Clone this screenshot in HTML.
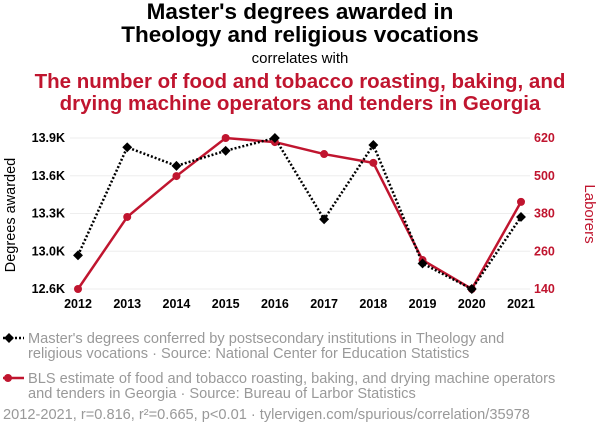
<!DOCTYPE html>
<html><head><meta charset="utf-8"><style>
body{margin:0;width:600px;height:436px;background:#fff;font-family:"Liberation Sans",sans-serif;overflow:hidden}
</style></head><body>
<svg width="600" height="436" xmlns="http://www.w3.org/2000/svg" font-family="Liberation Sans, sans-serif">
<text x="300" y="19" text-anchor="middle" font-size="22.5" font-weight="bold" fill="#000">Master's degrees awarded in</text>
<text x="300" y="42" text-anchor="middle" font-size="22.5" font-weight="bold" fill="#000">Theology and religious vocations</text>
<text x="300" y="63" text-anchor="middle" font-size="15" fill="#000">correlates with</text>
<text x="300" y="88" text-anchor="middle" font-size="20.5" font-weight="bold" fill="#c0152f">The number of food and tobacco roasting, baking, and</text>
<text x="300" y="110" text-anchor="middle" font-size="20.5" font-weight="bold" fill="#c0152f">drying machine operators and tenders in Georgia</text>
<g id="grid"></g>
<g id="axes"></g>
<text transform="translate(15,215) rotate(-90)" text-anchor="middle" font-size="14.5" fill="#000">Degrees awarded</text>
<text transform="translate(585,214) rotate(90)" text-anchor="middle" font-size="15" fill="#c0152f">Laborers</text>
<g id="marks"></g>
<g>
<line x1="3" y1="338" x2="24" y2="338" stroke="#000" stroke-width="2.5" stroke-dasharray="2,2"/>
<rect x="5.5" y="334.5" width="7" height="7" transform="rotate(45 9 338)" fill="#000"/>
<text x="28" y="343" font-size="14.6" fill="#999">Master's degrees conferred by postsecondary institutions in Theology and</text>
<text x="28" y="358" font-size="14.6" fill="#999">religious vocations · Source: National Center for Education Statistics</text>
<line x1="3" y1="378" x2="24" y2="378" stroke="#c0152f" stroke-width="2.5"/>
<circle cx="8" cy="378" r="4" fill="#c0152f"/>
<text x="28" y="383" font-size="14.6" fill="#999">BLS estimate of food and tobacco roasting, baking, and drying machine operators</text>
<text x="28" y="398" font-size="14.6" fill="#999">and tenders in Georgia · Source: Bureau of Larbor Statistics</text>
<text x="3" y="419" font-size="14.6" fill="#999">2012-2021, r=0.816, r²=0.665, p&lt;0.01 · tylervigen.com/spurious/correlation/35978</text>
</g>
</svg>
<script>
const years=[2012,2013,2014,2015,2016,2017,2018,2019,2020,2021];
const degrees=[12890,13820,13660,13790,13900,13200,13840,12820,12600,13220];
const laborers=[140,369,499,620,607,569,541,232,140,417];
const leftTicks=[12600,12925,13250,13575,13900];
const leftLabels=["12.6K","13.0K","13.3K","13.6K","13.9K"];
const rightTicks=[140,260,380,500,620];
const NS="http://www.w3.org/2000/svg";
const x=i=>78+i*(521-78)/(years.length-1);
const yL=v=>289-(v-12600)/1300*151;
const yR=v=>289-(v-140)/480*151;
function mk(t,a,p){const e=document.createElementNS(NS,t);for(const k in a)e.setAttribute(k,a[k]);document.getElementById(p).appendChild(e);return e;}
leftTicks.forEach((v,i)=>{
 const g=mk('line',{x1:70,x2:530,y1:yL(v),y2:yL(v),stroke:'#eee'},'grid');
 
 
 const t=mk('text',{x:65,y:yL(v)+4,'text-anchor':'end','font-size':12.5,'font-weight':'bold',fill:'#000'},'axes');t.textContent=leftLabels[i];
 
 
});
rightTicks.forEach(v=>{
 const t=mk('text',{x:534,y:yR(v)+4,'font-size':12.5,'font-weight':'bold',fill:'#c0152f'},'axes');t.textContent=v;
 
 
});
years.forEach((yr,i)=>{
 const t=mk('text',{x:x(i),y:308,'text-anchor':'middle','font-size':12.5,'font-weight':'bold',fill:'#000'},'axes');t.textContent=yr;
 
 
});
const rl=mk('polyline',{points:laborers.map((v,i)=>x(i)+','+yR(v)).join(' '),fill:'none',stroke:'#c0152f','stroke-width':2.5},'marks');


const bl=mk('polyline',{points:degrees.map((v,i)=>x(i)+','+yL(v)).join(' '),fill:'none',stroke:'#000','stroke-width':2.5,'stroke-dasharray':'2,2'},'marks');


laborers.forEach((v,i)=>{
 const c=mk('circle',{cx:x(i),cy:yR(v),r:4,fill:'#c0152f'},'marks');
 
 
});
degrees.forEach((v,i)=>{
 const cx=x(i),cy=yL(v);
 const r=mk('rect',{x:cx-3.5,y:cy-3.5,width:7,height:7,fill:'#000',transform:`rotate(45 ${cx} ${cy})`},'marks');
 
 
});
</script>
</body></html>
